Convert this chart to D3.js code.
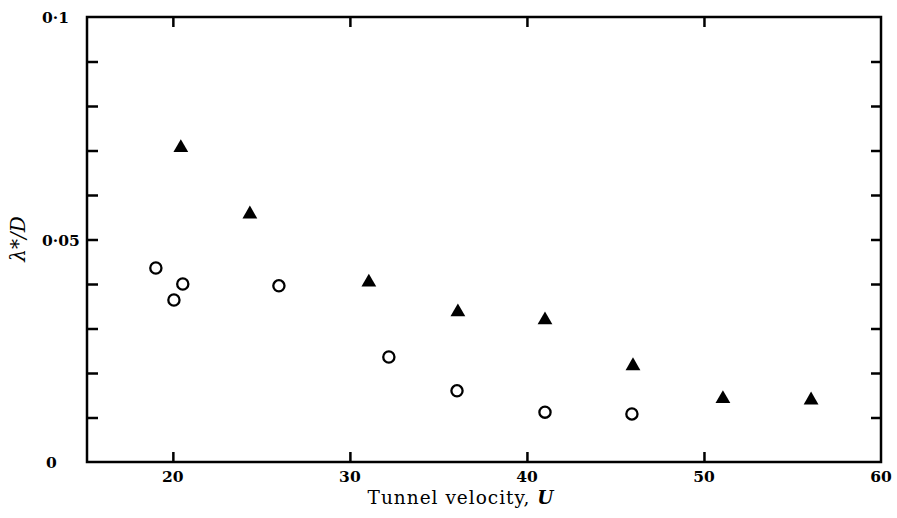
<!DOCTYPE html>
<html><head><meta charset="utf-8">
<script src="https://cdn.jsdelivr.net/npm/d3@7"></script>
<style>body{margin:0;background:#fff}svg{display:block}</style>
</head><body><svg id="c" width="897" height="518"></svg>
<script>
const triU = [20.45, 24.35, 31.07, 36.10, 41.02, 45.99, 51.07, 56.05];
const triL = [0.0706, 0.0557, 0.0404, 0.0337, 0.0319, 0.0216, 0.0142, 0.0139];
const cirU = [19.04, 20.06, 20.56, 25.99, 32.20, 36.05, 41.02, 45.93];
const cirL = [0.0436, 0.0364, 0.0400, 0.0396, 0.0236, 0.0160, 0.0112, 0.0108];
const xTicks = [20, 30, 40, 50, 60];
const xInnerTicks = [20, 30, 40, 50];
const yLabels = [{v:0, t:"0"}, {v:0.05, t:"0·05"}, {v:0.1, t:"0·1"}];
const yMinor = [0.01,0.02,0.03,0.04,0.05,0.06,0.07,0.08,0.09];

const svg = d3.select("#c");
const x = d3.scaleLinear().domain([15.15, 60]).range([87, 881]);
const y = d3.scaleLinear().domain([0, 0.1]).range([462, 17]);
const serif = "'DejaVu Serif','Liberation Serif',serif";

// frame
svg.append("rect").attr("x", x(15.15)).attr("y", y(0.1))
  .attr("width", x(60)-x(15.15)).attr("height", y(0)-y(0.1))
  .attr("fill","none").attr("stroke","#000").attr("stroke-width",2.5);

// inward ticks via axes
const axB = d3.axisTop(x).tickValues(xInnerTicks).tickSize(10).tickFormat("");
svg.append("g").attr("transform",`translate(0,${y(0)})`).call(axB);
const axT = d3.axisBottom(x).tickValues(xInnerTicks).tickSize(10).tickFormat("");
svg.append("g").attr("transform",`translate(0,${y(0.1)})`).call(axT);
const axL = d3.axisRight(y).tickValues(yMinor).tickSize(11).tickFormat("");
svg.append("g").attr("transform",`translate(${x(15.15)},0)`).call(axL);
const axR = d3.axisLeft(y).tickValues(yMinor).tickSize(10).tickFormat("");
svg.append("g").attr("transform",`translate(${x(60)},0)`).call(axR);
svg.selectAll(".domain").remove();
svg.selectAll(".tick line").attr("stroke","#000").attr("stroke-width",2.5);

// x labels
svg.append("g").selectAll("text").data(xTicks).join("text")
  .attr("x", d=>x(d)).attr("y", 482).attr("text-anchor","middle")
  .attr("font-family",serif).attr("font-size",15.5).attr("font-weight","bold")
  .text(d=>d);
// y labels
svg.append("g").selectAll("text").data(yLabels).join("text")
  .attr("x", d=> d.v===0 ? 46 : 42).attr("y", d=>y(d.v)+6).attr("text-anchor","start")
  .attr("font-family",serif).attr("font-size",15.5).attr("font-weight","bold")
  .text(d=>d.t);

// axis titles
const xt = svg.append("text").attr("x", 461).attr("y", 504).attr("text-anchor","middle")
  .attr("font-family",serif).attr("font-size",18.5).attr("letter-spacing",1);
xt.append("tspan").text("Tunnel velocity, ");
xt.append("tspan").attr("font-style","italic").attr("font-weight","bold").text("U");

const yt = svg.append("text").attr("transform","translate(25,239) rotate(-90)")
  .attr("text-anchor","middle").attr("font-family",serif).attr("font-size",20)
  .attr("font-style","italic");
yt.append("tspan").text("λ*/D");

// circles
svg.append("g").selectAll("circle").data(cirU.map((u,i)=>[u,cirL[i]])).join("circle")
  .attr("cx", d=>x(d[0])).attr("cy", d=>y(d[1])).attr("r", 5.6)
  .attr("fill","#fff").attr("stroke","#000").attr("stroke-width",2.3);
// triangles
const tri = d3.symbol().type(d3.symbolTriangle).size(95);
svg.append("g").selectAll("path").data(triU.map((u,i)=>[u,triL[i]])).join("path")
  .attr("d", tri).attr("transform", d=>`translate(${x(d[0])},${y(d[1])})`)
  .attr("fill","#000");
</script></body></html>
